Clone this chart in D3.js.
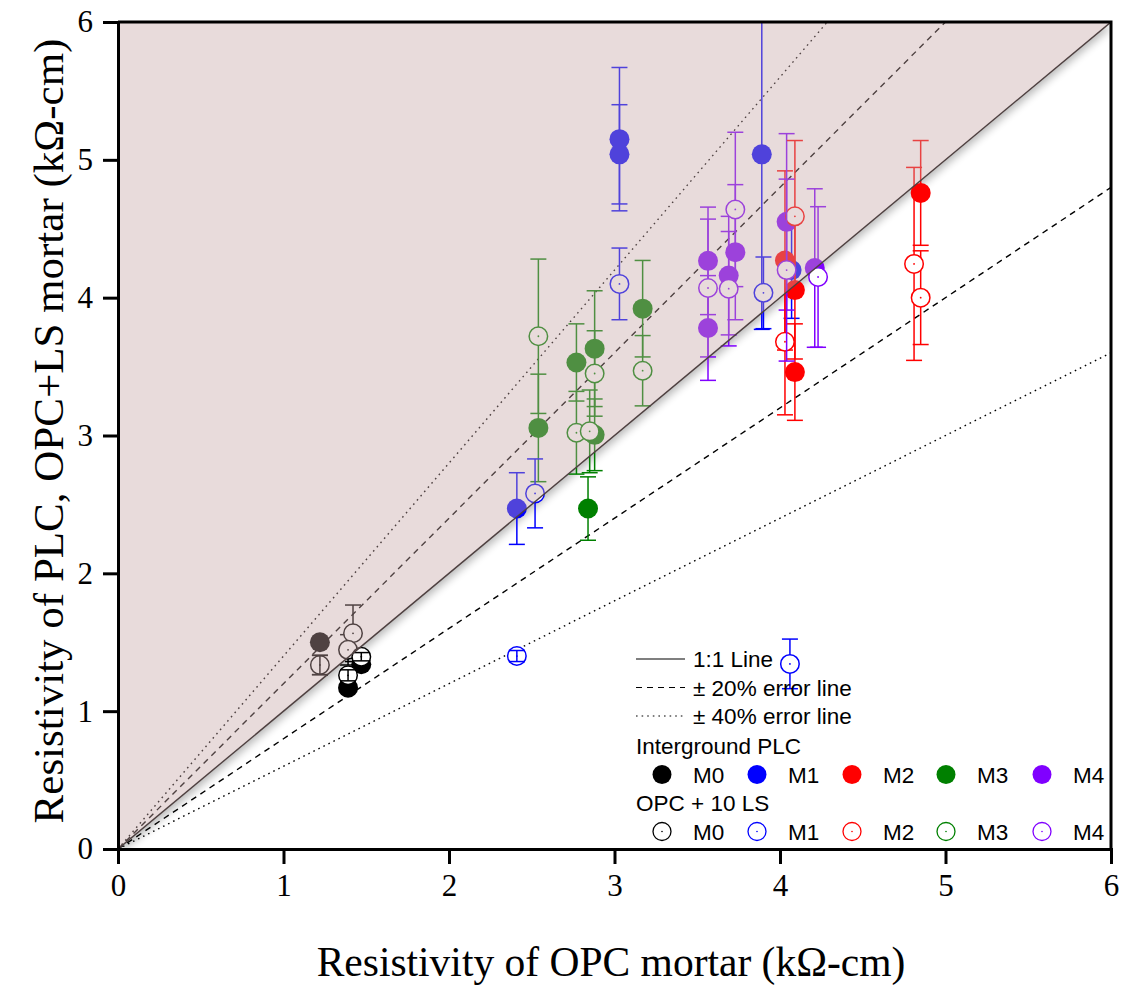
<!DOCTYPE html>
<html>
<head>
<meta charset="utf-8">
<script src="https://cdn.jsdelivr.net/npm/d3@7"></script>
<style>
  html, body { margin: 0; padding: 0; background: #fff; }
  svg { display: block; }
</style>
</head>
<body>
<svg id="chart" width="1135" height="985"></svg>
<script>
// ---- data ----------------------------------------------------------------
const mixes = ["M0", "M1", "M2", "M3", "M4"];
const axisTicks = [0, 1, 2, 3, 4, 5, 6];

// Interground PLC mortars: OPC resistivity (x), PLC resistivity (y), std. dev. of y
const plcOpc = [
  [1.22, 1.47, 1.39],
  [2.41, 3.03, 3.03, 3.89, 4.07],
  [4.03, 4.09, 4.09, 4.85],
  [2.54, 2.77, 2.88, 2.88, 3.17, 2.84],
  [3.565, 3.565, 3.69, 3.73, 4.04, 4.21]
];
const plcVal = [
  [1.50, 1.34, 1.17],
  [2.47, 5.15, 5.04, 5.04, 4.20],
  [4.27, 4.055, 3.46, 4.76],
  [3.055, 3.53, 3.63, 3.005, 3.92, 2.47],
  [4.267, 3.78, 4.16, 4.33, 4.55, 4.215]
];
const plcErr = [
  [0.02, 0.03, 0.03],
  [0.26, 0.52, 0.36, 1.27, 0.35],
  [0.65, 0.50, 0.35, 0.38],
  [0.39, 0.28, 0.42, 0.26, 0.35, 0.23],
  [0.39, 0.38, 0.43, 0.49, 0.64, 0.575]
];

// OPC + 10% limestone mortars
const lsOpc = [
  [1.22, 1.42, 1.39, 1.47, 1.39],
  [2.52, 3.03, 2.41, 3.90, 4.06],
  [4.09, 4.03, 4.81, 4.85],
  [2.54, 2.77, 2.88, 2.85, 3.17],
  [3.565, 3.69, 3.73, 4.04, 4.23]
];
const lsVal = [
  [1.335, 1.565, 1.445, 1.395, 1.26],
  [2.58, 4.10, 1.40, 4.035, 1.343],
  [4.59, 3.68, 4.245, 4.00],
  [3.72, 3.02, 3.45, 3.03, 3.47],
  [4.07, 4.065, 4.64, 4.20, 4.15]
];
const lsErr = [
  [0.07, 0.205, 0.11, 0.03, 0.04],
  [0.25, 0.26, 0.04, 0.26, 0.18],
  [0.55, 0.53, 0.70, 0.34],
  [0.56, 0.30, 0.31, 0.30, 0.255],
  [0.50, 0.415, 0.56, 0.66, 0.51]
];

// ratio lines y = k * x
const refLines = [
  { k: 1.0, label: "1:1 Line", dash: null },
  { k: 1.2, label: "± 20% error line", dash: "6,5" },
  { k: 0.8, label: null, dash: "6,5" },
  { k: 1.4, label: "± 40% error line", dash: "1.6,4" },
  { k: 0.6, label: null, dash: "1.6,4" }
];

// ---- styles --------------------------------------------------------------
const mixColors = ["#000000", "#0000ff", "#ff0000", "#008000", "#8000ff"];
const R = 10;          // marker radius
const CAP = 8;         // half width of error bar caps
const serif = "'Liberation Serif','Times New Roman',serif";
const sans = "'Liberation Sans',Arial,sans-serif";

// ---- layout --------------------------------------------------------------
const svg = d3.select("#chart");
const x = d3.scaleLinear().domain([0, 6]).range([118, 1111]);
const y = d3.scaleLinear().domain([0, 6]).range([849, 22]);
const [x0, x1] = x.range();
const [y0, y1] = y.range();

const defs = svg.append("defs");
defs.append("clipPath").attr("id", "plotClip")
  .append("rect").attr("x", x0).attr("y", y1).attr("width", x1 - x0).attr("height", y0 - y1);
defs.append("clipPath").attr("id", "belowClip")
  .append("path").attr("d", `M${x(0)},${y(0)}L${x(6)},${y(6)}L${x(6)},${y(0)}Z`);
const blur = defs.append("filter").attr("id", "soft")
  .attr("x", "-10%").attr("y", "-10%").attr("width", "120%").attr("height", "120%");
blur.append("feGaussianBlur").attr("stdDeviation", 4);

const plot = svg.append("g").attr("clip-path", "url(#plotClip)");

// soft shadow below the 1:1 boundary
plot.append("g").attr("clip-path", "url(#belowClip)")
  .append("path")
  .attr("d", `M${x(0)},${y(0)}L${x(0)},${y(6)}L${x(6)},${y(6)}Z`)
  .attr("transform", "translate(2,4)")
  .attr("fill", "#000").attr("opacity", 0.28)
  .attr("filter", "url(#soft)");

// ratio lines
const line = d3.line().x(d => x(d[0])).y(d => y(d[1]));
refLines.forEach(r => {
  if (r.k === 1) return;
  const xEnd = Math.min(6, 6 / r.k);
  plot.append("path")
    .attr("d", line([[0, 0], [xEnd, r.k * xEnd]]))
    .attr("fill", "none").attr("stroke", "#000").attr("stroke-width", 1.4)
    .attr("stroke-dasharray", r.dash);
});

// data layers
const groups = [];
mixes.forEach((m, i) => groups.push({ open: false, c: mixColors[i], xs: plcOpc[i], ys: plcVal[i], es: plcErr[i] }));
mixes.forEach((m, i) => groups.push({ open: true, c: mixColors[i], xs: lsOpc[i], ys: lsVal[i], es: lsErr[i] }));

function errorBar(g, c, xv, yv, ev) {
  const cx = x(xv);
  g.append("line").attr("x1", cx).attr("x2", cx)
    .attr("y1", y(yv - ev)).attr("y2", y(yv + ev))
    .attr("stroke", c).attr("stroke-width", 1.5);
  [yv - ev, yv + ev].forEach(v => {
    g.append("line").attr("x1", cx - CAP).attr("x2", cx + CAP)
      .attr("y1", y(v)).attr("y2", y(v))
      .attr("stroke", c).attr("stroke-width", 1.5);
  });
}

const dataG = plot.append("g");
groups.forEach(gr => {
  const g = dataG.append("g");
  gr.xs.forEach((xv, j) => errorBar(g, gr.c, xv, gr.ys[j], gr.es[j]));
  gr.xs.forEach((xv, j) => {
    const cx = x(xv), cy = y(gr.ys[j]);
    if (gr.open) {
      g.append("circle").attr("cx", cx).attr("cy", cy).attr("r", R - 0.75)
        .attr("fill", "#fff").attr("stroke", gr.c).attr("stroke-width", 1.5);
      g.append("circle").attr("cx", cx).attr("cy", cy).attr("r", 0.9).attr("fill", gr.c);
      // short bars stay visible across the hollow marker
      if (Math.abs(y(gr.ys[j]) - y(gr.ys[j] + gr.es[j])) < R) errorBar(g, gr.c, xv, gr.ys[j], gr.es[j]);
    } else {
      g.append("circle").attr("cx", cx).attr("cy", cy).attr("r", R).attr("fill", gr.c);
    }
  });
});

// tinted region above the 1:1 line
plot.append("path")
  .attr("d", `M${x(0)},${y(0)}L${x(0)},${y(6)}L${x(6)},${y(6)}Z`)
  .attr("fill", "rgb(198,165,165)").attr("opacity", 0.4);

// 1:1 line
plot.append("path").attr("d", line([[0, 0], [6, 6]]))
  .attr("fill", "none").attr("stroke", "#4e4040").attr("stroke-width", 1.4);

// ---- axes ----------------------------------------------------------------
const xAxis = d3.axisBottom(x).tickValues(axisTicks).tickFormat(d3.format("d")).tickSize(15).tickPadding(10);
const yAxis = d3.axisLeft(y).tickValues(axisTicks).tickFormat(d3.format("d")).tickSize(15).tickPadding(10);

function styleAxis(g) {
  g.select(".domain").attr("stroke", "#000").attr("stroke-width", 3);
  g.selectAll(".tick line").attr("stroke", "#000").attr("stroke-width", 3);
  g.selectAll(".tick text").attr("fill", "#000").style("font-family", serif).style("font-size", "31px");
}
svg.append("g").attr("transform", `translate(0,${y0})`).call(xAxis).call(styleAxis);
svg.append("g").attr("transform", `translate(${x0},0)`).call(yAxis).call(styleAxis);

// top and right frame
svg.append("path")
  .attr("d", `M${x0},${y1}H${x1}V${y0}`)
  .attr("fill", "none").attr("stroke", "#000").attr("stroke-width", 3);

// axis titles
svg.append("text").attr("x", 611).attr("y", 976).attr("text-anchor", "middle")
  .style("font-family", serif).style("font-size", "41.5px").attr("fill", "#000")
  .text("Resistivity of OPC mortar (kΩ-cm)");
svg.append("text").attr("transform", "translate(63,431) rotate(-90)").attr("text-anchor", "middle")
  .style("font-family", serif).style("font-size", "43px").attr("fill", "#000")
  .text("Resistivity of PLC, OPC+LS mortar (kΩ-cm)");

// ---- legend --------------------------------------------------------------
const leg = svg.append("g").style("font-family", sans).style("font-size", "22.5px").attr("fill", "#000");
const lineRows = refLines.filter(r => r.label);
lineRows.forEach((r, i) => {
  const ly = 659 + i * 28.5;
  leg.append("line").attr("x1", 636).attr("x2", 685).attr("y1", ly).attr("y2", ly)
    .attr("stroke", "#000").attr("stroke-width", 1.2).attr("stroke-dasharray", r.dash);
  leg.append("text").attr("x", 693).attr("y", ly + 8).text(r.label);
});
const colX = [662, 757, 852, 946, 1042];
[["Interground PLC", false, 746], ["OPC + 10 LS", true, 803]].forEach(([title, open, ty]) => {
  leg.append("text").attr("x", 636).attr("y", ty + 8).text(title);
  const ry = ty + 28.5;
  mixes.forEach((m, i) => {
    if (open) {
      leg.append("circle").attr("cx", colX[i]).attr("cy", ry).attr("r", 9)
        .attr("fill", "#fff").attr("stroke", mixColors[i]).attr("stroke-width", 1.3);
      leg.append("circle").attr("cx", colX[i]).attr("cy", ry).attr("r", 0.8).attr("fill", mixColors[i]);
    } else {
      leg.append("circle").attr("cx", colX[i]).attr("cy", ry).attr("r", 9.5).attr("fill", mixColors[i]);
    }
    leg.append("text").attr("x", colX[i] + 31).attr("y", ry + 8).text(m);
  });
});
</script>
</body>
</html>
